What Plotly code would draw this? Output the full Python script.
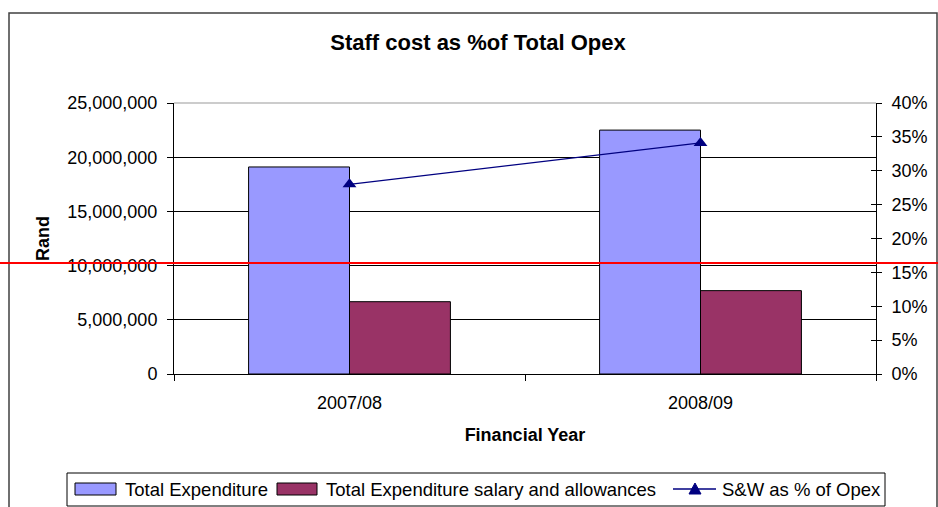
import plotly.graph_objects as go

years = ["2007/08", "2008/09"]
total_exp = [19100000, 22500000]
salary_allow = [6670000, 7690000]
sw_pct = [28.0, 34.1]
left_ticks = [0, 5000000, 10000000, 15000000, 20000000, 25000000]
right_ticks = [0, 5, 10, 15, 20, 25, 30, 35, 40]
right_labels = [f"{v}%" for v in right_ticks]
names = ["Total Expenditure", "Total Expenditure salary and allowances", "S&W as % of Opex"]
bar_colors = ["#9999FF", "#993366"]
line_color = "#000080"

FONT = "Liberation Sans, Arial, sans-serif"

fig = go.Figure()
fig.add_trace(go.Bar(x=years, y=total_exp, name=names[0],
                     marker=dict(color=bar_colors[0], line=dict(color="black", width=1))))
fig.add_trace(go.Bar(x=years, y=salary_allow, name=names[1],
                     marker=dict(color=bar_colors[1], line=dict(color="black", width=1))))
fig.add_trace(go.Scatter(x=years, y=sw_pct, name=names[2], yaxis="y2",
                         mode="lines+markers",
                         line=dict(color=line_color, width=1.3),
                         marker=dict(symbol="triangle-up", size=12, color=line_color)))
# invisible trace anchoring the inside-tick axis
fig.add_trace(go.Scatter(x=years, y=[None, None], yaxis="y3", showlegend=False,
                         hoverinfo="skip", mode="lines"))

L, R, T, B = 174, 62, 103, 133
W, H = 938, 507
pw = W - L - R
ph = H - T - B

def px_x(x):
    return (x - L) / pw

def px_y(y):
    return (H - B - y) / ph

fig.update_layout(
    width=W, height=H,
    margin=dict(l=L, r=R, t=T, b=B, pad=0, autoexpand=False),
    paper_bgcolor="white", plot_bgcolor="white",
    font=dict(family=FONT, size=18, color="black"),
    barmode="group", bargap=0.425, bargroupgap=0,
    showlegend=False,
    title=dict(text="<b>Staff cost as %of Total Opex</b>", x=px_x(478), xref="paper",
               xanchor="center", y=1 - 42 / H, yanchor="middle",
               font=dict(size=22, family=FONT, color="black")),
    xaxis=dict(type="category", showline=True, linecolor="black", linewidth=1,
               ticks="outside", ticklen=6, tickcolor="black", tickson="boundaries",
               ticklabelstandoff=12, showgrid=False, automargin=False,
               title=dict(text="<b>Financial Year</b>", font=dict(size=18), standoff=16)),
    yaxis=dict(range=[0, 25000000], tickvals=left_ticks,
               tickformat=",d", showline=True, linecolor="black", linewidth=1,
               ticks="outside", ticklen=6, tickcolor="black", ticklabelstandoff=6,
               showgrid=True, gridcolor="black", gridwidth=1, zeroline=False, automargin=False,
               title=dict(text="<b>Rand</b>", font=dict(size=18), standoff=13)),
    yaxis2=dict(range=[0, 40], tickvals=right_ticks, ticktext=right_labels,
                overlaying="y", side="right", showline=True, linecolor="black", linewidth=1,
                ticks="outside", ticklen=5, tickcolor="black", ticklabelstandoff=6,
                showgrid=False, zeroline=False, automargin=False),
    yaxis3=dict(range=[0, 40], tickvals=right_ticks,
                overlaying="y", side="right", showline=False, showticklabels=False,
                ticks="inside", ticklen=5, tickcolor="black", showgrid=False, zeroline=False),
)

# top plot-area border (gray)
fig.add_shape(type="line", xref="paper", yref="paper", x0=0, x1=1, y0=1, y1=1,
              line=dict(color="#999999", width=1))
# outer chart border
fig.add_shape(type="rect", xref="paper", yref="paper",
              x0=px_x(9), x1=px_x(937), y0=px_y(515), y1=px_y(13),
              line=dict(color="#404040", width=1.5), layer="below")

# custom legend (Excel style)
fig.add_shape(type="rect", xref="paper", yref="paper",
              x0=px_x(67), x1=px_x(885), y0=px_y(506), y1=px_y(473),
              line=dict(color="black", width=1), fillcolor="white")
sw_x = [(75, 116), (277, 317)]
txt_x = [123, 324, 720]
for (a, b), c in zip(sw_x, bar_colors):
    fig.add_shape(type="rect", xref="paper", yref="paper",
                  x0=px_x(a), x1=px_x(b), y0=px_y(495), y1=px_y(483),
                  line=dict(color="black", width=1), fillcolor=c)
fig.add_shape(type="line", xref="paper", yref="paper",
              x0=px_x(673), x1=px_x(716), y0=px_y(489), y1=px_y(489),
              line=dict(color=line_color, width=1.3))
tx, ty = 695, 489
tri = (f"M {px_x(tx - 6)} {px_y(ty + 5)} L {px_x(tx + 6)} {px_y(ty + 5)} "
       f"L {px_x(tx)} {px_y(ty - 6)} Z")
fig.add_shape(type="path", xref="paper", yref="paper", path=tri,
              line=dict(color=line_color, width=1), fillcolor=line_color)
for x, n in zip(txt_x, names):
    fig.add_annotation(x=px_x(x), y=px_y(489), xref="paper", yref="paper",
                       text=n, showarrow=False, xanchor="left", yanchor="middle",
                       font=dict(size=18.5, family=FONT, color="black"))

# red horizontal line across the page
fig.add_shape(type="line", xref="paper", yref="paper",
              x0=px_x(0), x1=px_x(938), y0=px_y(263), y1=px_y(263),
              line=dict(color="red", width=2))

fig.write_html("out.html")
